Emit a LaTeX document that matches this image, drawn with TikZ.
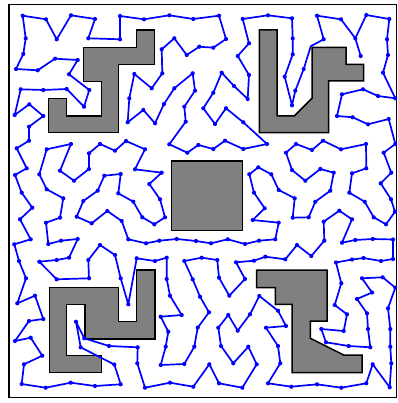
\documentclass[tikz,border=0pt]{standalone}
\usepackage{tikz}
\definecolor{obstgray}{RGB}{128,128,128}
\definecolor{tourblue}{RGB}{0,0,255}
\tikzset{
  tour/.style={draw=tourblue, line width=1.7pt, line join=round, line cap=round},
  tourdot/.style={fill=tourblue},
  obst/.style={fill=obstgray, draw=black, line width=1.5pt, line join=miter},
  framebox/.style={draw=black, line width=1.5pt}
}
\begin{document}
\begin{tikzpicture}[x=1pt,y=-1pt]
\useasboundingbox (0,0) rectangle (397,403);
\clip (0,0) rectangle (397,403);
\fill[white] (0,0) rectangle (397,403);
\draw[framebox] (9,4.5) rectangle (396.5,397.5);
% obstacles
\draw[obst] (83.3,47.3) -- (136.7,47.3) -- (136.7,30) -- (154.3,30) -- (154.3,64.3) -- (118.3,64.3) -- (118.3,132.7) -- (48.3,132.7) -- (48.3,98.3) -- (66.7,98.3) -- (66.7,116) -- (101.7,116) -- (101.7,81.7) -- (83.3,81.7) -- cycle;
\draw[obst] (259.3,30) -- (277,30) -- (277,116) -- (294.3,116) -- (312,98.3) -- (312,47.3) -- (346,47.3) -- (346,64.3) -- (363.7,64.3) -- (363.7,81) -- (328.7,81) -- (328.7,132.7) -- (259.3,132.7) -- cycle;
\draw[obst] (171.7,161) rectangle (242.7,230.7);
\draw[obst] (49.3,287.3) -- (118.3,287.3) -- (118.3,321.7) -- (136.7,321.7) -- (136.7,270) -- (155,270) -- (155,339) -- (85,339) -- (85,304.3) -- (66.7,304.3) -- (66.7,355.7) -- (101.7,355.7) -- (101.7,372.3) -- (49.3,372.3) -- cycle;
\draw[obst] (256.7,270) -- (327,270) -- (327,321) -- (310.3,321) -- (310.3,338.3) -- (343.7,355) -- (362,355) -- (362,372.7) -- (292,372.7) -- (292,304.3) -- (275.3,304.3) -- (275.3,287.7) -- (256.7,287.7) -- cycle;
% tour points (index 6 is a bend at an obstacle corner, drawn without a dot)
\foreach \x/\y [count=\i] in {
360.7/56, 355.3/38.3, 341/19.3, 317/15.7, 323.7/39.3, 310.8/46.2, 303.7/69, 295.3/90.7, 292/105.3, 284.7/76.7, 292.7/54.3,
292.7/38.3, 292/18.3, 268/15.3, 242.7/19, 249/43.3, 237.7/56, 249/75, 247.7/99, 234/86, 221.7/72.7,
213.3/92.7, 203.3/108.3, 215/124, 226/108.3, 243.3/122.3, 267/144, 243.3/149, 225/140.7, 213.3/149, 198.3/145,
187.3/152.7, 169.3/144.3, 185.7/121.7, 184.3/106.7, 195/90.7, 192.7/73.3, 174.3/88.3, 164/104, 155/123.3, 143.3/110,
127.7/122.3, 129.3/98.3, 134.3/74, 151.7/88.3, 162.3/73.3, 161.7/49.3, 174.3/38.3, 186.7/55, 199.3/46.7, 213.3/47.7,
226/39, 219/15.7, 193.3/19, 169.3/15.3, 144/19.3, 120/16, 120/39.3, 88.3/38.3, 95/19, 71/15.3,
56.7/39.3, 46/19.3, 22.7/15.7, 25.7/38.3, 23.3/54, 16/69, 37.7/70.3, 55/58.7, 77.7/60, 69/74.3,
89.3/90, 84/106.7, 66.7/89, 43.3/90, 20.7/89.3, 14.7/115, 29.3/104.3, 43.3/116, 29/126.7, 29/140.7,
16.7/148.3, 26.7/168.3, 15/175, 21.7/192.7, 32.3/207.7, 20/219.3, 30.7/239.3, 14.3/244.3, 19/261, 26/278.3,
17.3/303.3, 35/295.7, 43.3/319, 29/321, 15/341, 30.7/337.7, 42.3/355.7, 24/364.3, 21.7/384, 45.7/387.7,
70.7/382.7, 95/386, 120.7/384.3, 114.3/364.5, 80.7/347.3, 76/321.7, 84.3/338.3, 109/346, 137.7/347.3, 137.3/363.3,
145/387.7, 170/382.7, 193.3/386.7, 209.3/364.3, 219/383.3, 242.3/387.7, 256.7/364.3, 248.3/346.7, 233.3/363.3, 221/346,
218.3/327.7, 228.3/315, 237.7/330.7, 250/314.3, 259.3/296, 278/310.7, 286/326, 266/327.7, 278/346, 280.3/363.3,
268/383.3, 291.3/386.7, 317/384.3, 341.3/387.7, 366.3/383.3, 372.7/364.3, 389.7/387.3, 391.3/363.3, 390.3/346.7, 390.3/329,
388/308.3, 395.3/287.7, 382.7/277.3, 362/278.3, 372/292.5, 357/299, 367/313.3, 368/329, 370.3/347.3, 348.7/346,
326/342.3, 321.3/329, 343.7/331, 347/314.3, 334.7/305, 341.3/283.3, 336/262.5, 352/259.5, 363.5/258, 381/261,
393/259, 393/239.5, 372.7/239, 355.3/240, 342/242.7, 352/219.3, 339.3/210.7, 323.7/221.7, 324.3/240.7, 311.3/256,
297/245, 285.3/259.3, 265.3/256.7, 254/260.7, 236/262.3, 245/279, 229.3/295.7, 219/277.7, 217.3/260, 201.7/257.7,
184.3/261, 192.7/279.3, 200/296.7, 209/312.3, 197.7/327.7, 194.3/346.7, 184.3/364, 160.7/365, 165.7/346.7, 168.3/331.7,
160.7/316.7, 181.7/315, 170/295.7, 166.7/279, 166.7/257.7, 155/261, 136.7/258.3, 128.3/304.3, 120.7/278.3, 115/255,
100/245, 88.3/260, 89/278.3, 56.7/279.3, 39.3/261.7, 56.7/260, 69/257.7, 77.7/239, 61/240.7, 48.3/244,
46/222.7, 60/217.7, 63.3/198.3, 46.7/189.3, 39.3/174.3, 46.7/149.3, 71/144, 60/170.7, 74/180.7, 89/169,
89/153.3, 100/144, 115/150.7, 126/141, 145/149.3, 135/169.3, 161.7/172.7, 149.3/184, 160/199.3, 165/217.3,
154.3/224.3, 142.3/217.3, 133.3/201.7, 118.3/193.3, 120.7/174, 104.3/175.7, 97.7/190.7, 83.3/201, 76.7/216.7, 91.7/223.3,
107.3/211, 121.7/221, 128.3/239.3, 146/243.3, 159.3/240.7, 176.7/239, 196/241, 211/243.3, 227.7/239.3, 245/244,
259/240.7, 275.3/239.3, 278.7/222.7, 252.7/220, 264.7/208.3, 254/192.7, 249.3/174.3, 258.3/167.3, 271.3/174.3, 278.7/190,
294.7/198.3, 292.7/217.7, 308.7/217.3, 315.3/201.7, 330.3/190.7, 333.7/172.7, 320.3/169, 305.3/180.7, 292/170, 286/152.7,
296/144, 312/150, 323/140.7, 341/149.3, 366/144, 366.3/168.3, 352/173.3, 349.3/192.7, 364.7/201.7, 373.7/217.3,
386/224.3, 395/211.7, 391/199.3, 380.7/183.3, 391.3/172.7, 383.7/152.7, 395.3/144, 388.7/119, 368/124.3, 352.7/117.3,
337/116, 342/94.3, 363/89.3, 378/96, 395.3/98.3, 383/72.7, 388/55, 387/39.3, 389.3/19, 366.3/15}
{ \coordinate (p\i) at (\x,\y); \xdef\npts{\i} }
\draw[tour] (p1) \foreach \i in {2,...,\npts} { -- (p\i) } -- (p2);
\foreach \i in {1,...,\npts} { \ifnum\i=6\else \fill[tourdot] (p\i) circle (2.1); \fi }
\end{tikzpicture}
\end{document}
